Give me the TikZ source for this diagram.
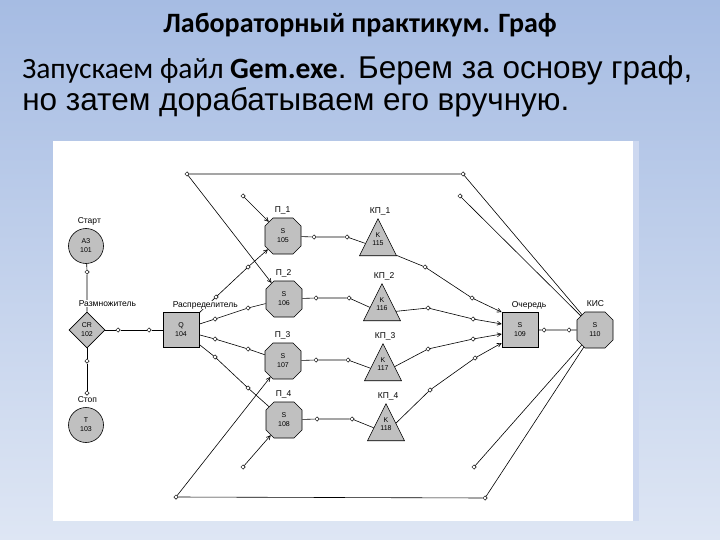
\documentclass[tikz,border=0pt]{standalone}
\usepackage{fontspec}
\setmainfont{Liberation Sans}
\newfontfamily\calibri{Carlito}
\usetikzlibrary{shapes.geometric,shapes.misc,arrows.meta}
\definecolor{blockgray}{RGB}{192,192,192}
\definecolor{slidetop}{RGB}{166,188,227}
\definecolor{slidebot}{RGB}{222,230,244}
\definecolor{panelrim}{RGB}{205,216,240}
\newcommand\tritext[2]{\smash{\raisebox{2pt}{\shortstack{#1\\#2}}}}

\begin{document}
\begin{tikzpicture}[x=1pt, y=-1pt, line width=0.6pt]
	\tikzset{
		blk/.style={draw=black, fill=blockgray, inner sep=0pt, align=center, font=\fontsize{7}{9}\selectfont},
		gen/.style={blk, circle, minimum size=35pt},
		spl/.style={blk, diamond, minimum width=36pt, minimum height=36pt},
		que/.style={blk, rectangle, minimum width=36pt, minimum height=35pt},
		dev/.style={blk, chamfered rectangle, chamfered rectangle sep=4pt, minimum width=36pt, minimum height=36pt},
		tri/.style={blk, isosceles triangle, isosceles triangle stretches, shape border rotate=90, minimum width=37pt, minimum height=37pt, anchor=apex},
		pt/.style={draw=black, fill=white, diamond, inner sep=0pt, minimum size=4.5pt, line width=0.5pt},
		lbl/.style={font=\fontsize{8.5}{9}\selectfont, anchor=base west, inner sep=0.5pt, fill=white},
		arr/.style={-{Straight Barb[length=4pt, width=4pt]}}
	}

	\useasboundingbox (0,0) rectangle (720,540);
	\shade[top color=slidetop, bottom color=slidebot] (0,0) rectangle (720,540);
	\fill[panelrim] (633,141) rectangle (639,521);
	\fill[white] (53,141) rectangle (633,521);

	% slide text
	\node[anchor=base, font=\calibri\bfseries\fontsize{28}{32}\selectfont] (title) at (360,33) {Лабораторный практикум. Граф};
	\node[anchor=base west, inner sep=0pt, font=\fontsize{31.5}{36}\selectfont] (line1) at (22,79)
		{{\calibri\fontsize{29.5}{34}\selectfont Запускаем файл \textbf{Gem.exe}}. Берем за основу граф,};
	\node[anchor=base west, inner sep=0pt, font=\fontsize{31.5}{36}\selectfont] (line2) at (22,111)
		{но затем дорабатываем его вручную.};

	% blocks
	\node[gen] (a3) at (86,246) {АЗ\\101};
	\node[spl] (cr) at (87,330) {CR\\102};
	\node[gen] (t3) at (86,425) {T\\103};
	\node[que] (q4) at (181,330) {Q\\104};

	\node[dev] (s5) at (283,236) {S\\105};
	\node[dev] (s6) at (284,299) {S\\106};
	\node[dev] (s7) at (283,361) {S\\107};
	\node[dev] (s8) at (284,420) {S\\108};

	\node[tri] (k15) at (378,218) {\tritext{K}{115}};
	\node[tri] (k16) at (382,283) {\tritext{K}{116}};
	\node[tri] (k17) at (383,343) {\tritext{K}{117}};
	\node[tri] (k18) at (386,403) {\tritext{K}{118}};

	\node[que] (s9) at (520,330) {S\\109};
	\node[dev] (s10) at (595,330) {S\\110};

	% ports
	\node[pt] (pa) at (87,272) {};
	\node[pt] (pb1) at (118,330) {};
	\node[pt] (pb2) at (149,330) {};
	\node[pt] (pc1) at (87,361) {};
	\node[pt] (pc2) at (87,393) {};

	\node[pt] (q1a) at (216,297) {};
	\node[pt] (q1b) at (248,267) {};
	\node[pt] (q2a) at (215,319) {};
	\node[pt] (q2b) at (248,308) {};
	\node[pt] (q3a) at (215,339) {};
	\node[pt] (q3b) at (248,349) {};
	\node[pt] (q4a) at (215,357) {};
	\node[pt] (q4b) at (248,388) {};

	\node[pt] (h1a) at (314,237) {};
	\node[pt] (h1b) at (347,237) {};
	\node[pt] (h2a) at (316,298) {};
	\node[pt] (h2b) at (349,298) {};
	\node[pt] (h3a) at (316,360) {};
	\node[pt] (h3b) at (348,360) {};
	\node[pt] (h4a) at (317,419) {};
	\node[pt] (h4b) at (352,419) {};

	\node[pt] (r1a) at (425,267) {};
	\node[pt] (r1b) at (472,298) {};
	\node[pt] (r2a) at (428,308) {};
	\node[pt] (r2b) at (473,319) {};
	\node[pt] (r3a) at (428,349) {};
	\node[pt] (r3b) at (473,339) {};
	\node[pt] (r4a) at (430,390) {};
	\node[pt] (r4b) at (475,358) {};

	\node[pt] (o1) at (544,330) {};
	\node[pt] (o2) at (569,330) {};

	\node[pt] (t1) at (187,174) {};
	\node[pt] (t2) at (463,174) {};
	\node[pt] (f1) at (243,196) {};
	\node[pt] (f2) at (460,196) {};
	\node[pt] (u1) at (176,497) {};
	\node[pt] (u2) at (485,498) {};
	\node[pt] (f3) at (243,467) {};
	\node[pt] (f4) at (474,467) {};

	% connectors
	\draw (a3) to (pa) to (cr);
	\draw (cr) to (pb1) to (pb2) to (q4);
	\draw (cr) to (pc1) to (pc2);

	\draw[arr] (q4) to (q1a) to (q1b) to (s5);
	\draw (q4) to (q2a) to (q2b) to (s6);
	\draw (q4) to (q3a) to (q3b) to (s7);
	\draw (q4) to (q4a) to (q4b) to (s8);

	\draw (s5) to (h1a) to (h1b) to (k15);
	\draw (s6) to (h2a) to (h2b) to (k16);
	\draw (s7) to (h3a) to (h3b) to (k17);
	\draw (s8) to (h4a) to (h4b) to (k18);

	\draw[arr] (k15) to (r1a) to (r1b) to (s9.north west);
	\draw[arr] (k16) to (r2a) to (r2b) to ([yshift=6pt]s9.west);
	\draw[arr] (k17) to (r3a) to (r3b) to ([yshift=-4pt]s9.west);
	\draw[arr] (k18) to (r4a) to (r4b) to ([yshift=-13pt]s9.west);

	\draw (s9) to (o1) to (o2) to (s10);

	\draw[arr] (s10) to (t2) to (t1) to (s6);
	\draw (s10) to (f2);
	\draw[arr] (f1) to (s5);
	\draw[arr] (s10) to (u2) to (u1) to (s7);
	\draw (s10) to (f4);
	\draw[arr] (f3) to (s8);

	% block labels
	\node[lbl] (la3) at ([xshift=-9pt, yshift=5pt]a3.north) {Старт};
	\node[lbl] (lcr) at ([xshift=-9pt, yshift=5pt]cr.north) {Размножитель};
	\node[lbl] (lt3) at ([xshift=-9pt, yshift=5pt]t3.north) {Стоп};
	\node[lbl] (lq4) at ([xshift=-9pt, yshift=5pt]q4.north) {Распределитель};
	\node[lbl] (ls5) at ([xshift=-9pt, yshift=5pt]s5.north) {П\_1};
	\node[lbl] (ls6) at ([xshift=-9pt, yshift=5pt]s6.north) {П\_2};
	\node[lbl] (ls7) at ([xshift=-9pt, yshift=5pt]s7.north) {П\_3};
	\node[lbl] (ls8) at ([xshift=-9pt, yshift=5pt]s8.north) {П\_4};
	\node[lbl] (lk15) at ([xshift=-9pt, yshift=5pt]k15.north) {КП\_1};
	\node[lbl] (lk16) at ([xshift=-9pt, yshift=5pt]k16.north) {КП\_2};
	\node[lbl] (lk17) at ([xshift=-9pt, yshift=5pt]k17.north) {КП\_3};
	\node[lbl] (lk18) at ([xshift=-9pt, yshift=5pt]k18.north) {КП\_4};
	\node[lbl] (ls9) at ([xshift=-9pt, yshift=5pt]s9.north) {Очередь};
	\node[lbl] (ls10) at ([xshift=-9pt, yshift=5pt]s10.north) {КИС};
\end{tikzpicture}
\end{document}
